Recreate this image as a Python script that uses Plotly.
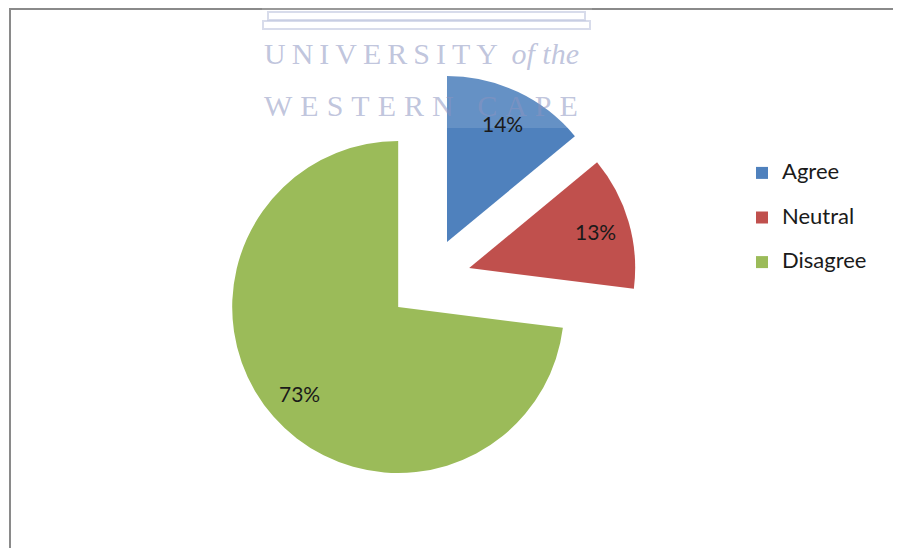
import math
import plotly.graph_objects as go

# ---- data ----
categories = ["Agree", "Neutral", "Disagree"]
values = [14, 13, 73]
colors = ["#4F81BD", "#C0504D", "#9BBB59"]
pulls = [0.25, 0.25, 0.25]

# the html page body has an 8px margin; lay the figure out in page pixels
OFF = 8
W, H = 901 - OFF, 548 - OFF


def px(x):
    return (x - OFF) / W


def py(y):
    return 1 - (y - OFF) / H


pie_domain_x = [0.2394, 0.7042]
pie_domain_y = [0.1128, 0.8813]

# legend labels: bigger text inside a 2-line entry to get wide spacing
legend_labels = [
    '<span style="font-size:22px">%s</span><br>\u00a0' % c for c in categories
]

fig = go.Figure()
fig.add_trace(
    go.Pie(
        labels=legend_labels,
        values=values,
        sort=False,
        direction="clockwise",
        rotation=0,
        pull=pulls,
        marker=dict(colors=colors, line=dict(width=0)),
        textinfo="none",
        hoverinfo="percent",
        domain=dict(x=pie_domain_x, y=pie_domain_y),
        showlegend=True,
    )
)

# percent labels placed along each slice's bisector (computed from the data)
total = sum(values)
cxp = (pie_domain_x[0] + pie_domain_x[1]) / 2 * W
cyp = (pie_domain_y[0] + pie_domain_y[1]) / 2 * H
rad = min((pie_domain_x[1] - pie_domain_x[0]) * W,
          (pie_domain_y[1] - pie_domain_y[0]) * H) / (2 + 2 * max(pulls))
LABEL_R = 0.79
annotations = []
cum = 0
for v, p in zip(values, pulls):
    mid = (cum + v / 2) / total * 2 * math.pi
    cum += v
    d = (p + LABEL_R) * rad
    annotations.append(dict(
        xref="paper", yref="paper",
        x=(cxp + d * math.sin(mid)) / W, y=(cyp + d * math.cos(mid)) / H,
        xanchor="center", yanchor="middle", showarrow=False,
        text="%d%%" % round(100 * v / total),
        font=dict(family="Lato", size=21, color="#1a1a1a"),
    ))

shapes = []
# chart frame (top + left)
shapes.append(dict(type="line", xref="paper", yref="paper",
                   x0=px(9), x1=px(901), y0=py(9), y1=py(9),
                   line=dict(color="#8a8a8a", width=2)))
shapes.append(dict(type="line", xref="paper", yref="paper",
                   x0=px(10), x1=px(10), y0=py(8), y1=py(548),
                   line=dict(color="#8a8a8a", width=2)))
# watermark whitening overlay
shapes.append(dict(type="rect", xref="paper", yref="paper", layer="above",
                   x0=px(262), x1=px(592), y0=py(0), y1=py(128),
                   fillcolor="rgba(255,255,255,0.13)", line=dict(width=0)))
# watermark logo steps
shapes.append(dict(type="rect", xref="paper", yref="paper", layer="above",
                   x0=px(268), x1=px(585), y0=py(12), y1=py(20),
                   fillcolor="rgba(0,0,0,0)", line=dict(color="rgba(190,196,222,0.6)", width=2)))
shapes.append(dict(type="rect", xref="paper", yref="paper", layer="above",
                   x0=px(263), x1=px(590), y0=py(21), y1=py(29),
                   fillcolor="rgba(0,0,0,0)", line=dict(color="rgba(190,196,222,0.6)", width=2)))
for cx in [293, 345, 399, 452, 506, 559]:
    for dx in (-7, 0, 7):
        shapes.append(dict(type="line", xref="paper", yref="paper", layer="above",
                           x0=px(cx + dx), x1=px(cx + dx), y0=py(1), y1=py(7),
                           line=dict(color="rgba(180,186,214,0.8)", width=2)))

annotations += [
    dict(xref="paper", yref="paper", x=px(262), y=py(72), xanchor="left", yanchor="bottom",
         showarrow=False,
         text='<span style="letter-spacing:6px">UNIVERSITY</span> <i>of the</i>',
         font=dict(family="Liberation Serif", size=30, color="rgba(140,148,192,0.55)")),
    dict(xref="paper", yref="paper", x=px(262), y=py(124), xanchor="left", yanchor="bottom",
         showarrow=False,
         text='<span style="letter-spacing:8px">WESTERN CAPE</span>',
         font=dict(family="Liberation Serif", size=30, color="rgba(140,148,192,0.55)")),
]

fig.update_layout(
    width=W,
    height=H,
    margin=dict(l=0, r=0, t=0, b=0),
    paper_bgcolor="white",
    plot_bgcolor="white",
    shapes=shapes,
    annotations=annotations,
    legend=dict(
        x=px(742), y=py(156), xanchor="left", yanchor="top",
        font=dict(family="Lato", size=16, color="#1a1a1a"),
        valign="top",
        bgcolor="rgba(0,0,0,0)",
    ),
)

fig.write_html("out.html")
